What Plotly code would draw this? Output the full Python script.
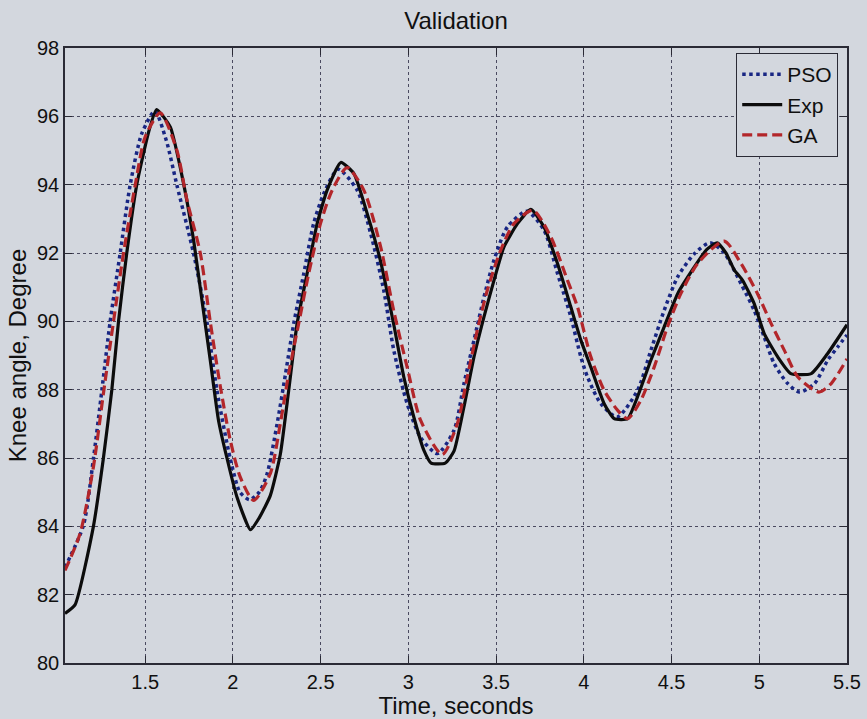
import plotly.graph_objects as go

# ---- data ----
t_exp = [1.043, 1.10, 1.205, 1.262, 1.31, 1.348, 1.395, 1.452, 1.52, 1.565, 1.643, 1.72, 1.776,
         1.824, 1.871, 1.918, 1.966, 2.023, 2.10, 2.15, 2.213, 2.27, 2.318, 2.366, 2.423, 2.48,
         2.537, 2.615, 2.689, 2.765, 2.84, 2.917, 2.974, 3.031, 3.088, 3.13, 3.21, 3.26, 3.317,
         3.374, 3.431, 3.488, 3.545, 3.622, 3.698, 3.773, 3.85, 3.926, 3.983, 4.04, 4.116, 4.173,
         4.25, 4.306, 4.382, 4.458, 4.535, 4.63, 4.70, 4.76, 4.81, 4.858, 4.905, 4.971, 5.028,
         5.105, 5.18, 5.296, 5.39, 5.5]
y_exp = [81.45, 81.7, 84.0, 86.0, 88.0, 90.0, 92.0, 94.0, 95.55, 96.2, 95.69, 94.0, 92.37,
         90.6, 88.86, 87.1, 86.0, 84.86, 83.9, 84.25, 84.9, 86.1, 87.98, 89.94, 91.4, 92.86,
         93.84, 94.65, 94.33, 93.16, 91.79, 89.9, 88.37, 87.2, 86.23, 85.85, 85.85, 86.2, 87.5,
         88.96, 90.13, 91.2, 92.18, 92.86, 93.28, 92.76, 91.69, 90.42, 89.45, 88.66, 87.59, 87.15,
         87.15, 87.79, 88.86, 89.84, 90.81, 91.59, 92.1, 92.3, 92.0, 91.5, 91.2, 90.52, 89.64,
         88.96, 88.47, 88.47, 89.06, 89.9]

t_pso = [1.043, 1.148, 1.205, 1.253, 1.30, 1.357, 1.414, 1.481, 1.555, 1.62, 1.681, 1.776, 1.852,
         1.909, 1.985, 2.04, 2.095, 2.15, 2.195, 2.252, 2.30, 2.347, 2.404, 2.46, 2.518, 2.60,
         2.708, 2.785, 2.86, 2.917, 2.993, 3.07, 3.165, 3.26, 3.317, 3.374, 3.431, 3.488, 3.564,
         3.675, 3.773, 3.85, 3.926, 3.983, 4.021, 4.097, 4.19, 4.306, 4.382, 4.458, 4.535, 4.63,
         4.72, 4.80, 4.896, 4.971, 5.028, 5.085, 5.162, 5.23, 5.315, 5.39, 5.447, 5.5]
y_pso = [82.8, 84.03, 85.98, 87.98, 89.98, 91.98, 93.98, 95.5, 96.15, 95.3, 93.98, 91.98, 89.98,
         87.98, 85.98, 85.0, 84.78, 85.0, 85.54, 87.0, 88.47, 89.94, 91.4, 92.86, 93.74, 94.45,
         93.84, 92.57, 90.9, 89.15, 87.59, 86.6, 86.13, 86.81, 88.18, 89.45, 90.71, 91.79, 92.76,
         93.22, 92.67, 91.4, 90.13, 88.96, 88.37, 87.59, 87.2, 87.98, 89.15, 90.32, 91.3, 91.98,
         92.3, 92.0, 91.1, 90.32, 89.54, 88.76, 88.18, 87.93, 88.18, 88.86, 89.25, 89.6]

t_ga = [1.043, 1.129, 1.205, 1.262, 1.319, 1.376, 1.443, 1.50, 1.586, 1.681, 1.738, 1.814, 1.871,
        1.928, 1.985, 2.042, 2.118, 2.213, 2.27, 2.318, 2.375, 2.432, 2.499, 2.566, 2.651, 2.746,
        2.841, 2.917, 2.993, 3.07, 3.193, 3.279, 3.336, 3.393, 3.45, 3.526, 3.602, 3.71, 3.812,
        3.907, 3.964, 4.04, 4.116, 4.192, 4.25, 4.325, 4.401, 4.477, 4.553, 4.649, 4.80, 4.896,
        4.99, 5.067, 5.143, 5.22, 5.34, 5.41, 5.5]
y_ga = [82.71, 83.79, 85.74, 87.89, 89.98, 91.98, 93.98, 95.4, 96.1, 95.0, 93.55, 92.0, 89.98,
        88.1, 86.52, 85.44, 84.76, 85.54, 87.0, 88.47, 89.94, 91.4, 92.86, 93.84, 94.5, 93.84,
        92.2, 90.3, 88.66, 87.1, 86.1, 87.0, 88.37, 89.74, 90.91, 92.08, 92.86, 93.25, 92.47,
        91.2, 90.42, 88.96, 87.98, 87.4, 87.15, 87.69, 88.66, 89.84, 90.81, 91.69, 92.35, 91.69,
        90.81, 89.94, 89.15, 88.37, 87.93, 88.18, 88.9]

x_ticks = [1.5, 2, 2.5, 3, 3.5, 4, 4.5, 5, 5.5]
x_tick_labels = ["1.5", "2", "2.5", "3", "3.5", "4", "4.5", "5", "5.5"]
y_ticks = [80, 82, 84, 86, 88, 90, 92, 94, 96, 98]

BG = "rgb(211,215,222)"
FONT = "Liberation Sans, Arial, sans-serif"
INK = "#101010"

fig = go.Figure()
fig.add_trace(go.Scatter(x=t_pso, y=y_pso, name="PSO", mode="lines",
                         line=dict(color="#182683", width=3.5, dash="3.5px,3.5px", shape="spline", smoothing=0.7)))
fig.add_trace(go.Scatter(x=t_exp, y=y_exp, name="Exp", mode="lines",
                         line=dict(color="#0c0c0c", width=3.2, shape="spline", smoothing=0.5)))
fig.add_trace(go.Scatter(x=t_ga, y=y_ga, name="GA", mode="lines",
                         line=dict(color="#b3262a", width=3.2, dash="10px,5px", shape="spline", smoothing=0.7)))

axis_common = dict(showline=True, linecolor="#2a2a35", linewidth=1.6, mirror="ticks",
                   ticks="inside", ticklen=7, tickcolor="#2a2a35", tickwidth=1.2,
                   showgrid=True, gridcolor="#4a4a60", gridwidth=1, griddash="dot",
                   zeroline=False, tickfont=dict(family=FONT, size=20, color=INK),
                   automargin=False)

fig.update_xaxes(range=[1.043, 5.5], tickvals=x_ticks, ticktext=x_tick_labels,
                 title=dict(text="Time, seconds", font=dict(family=FONT, size=24, color=INK), standoff=2),
                 **axis_common)
fig.update_yaxes(range=[80, 98], tickvals=y_ticks,
                 title=dict(text="Knee angle, Degree", font=dict(family=FONT, size=24, color=INK), standoff=4),
                 **axis_common)

fig.update_layout(
    width=867, height=719,
    paper_bgcolor=BG, plot_bgcolor=BG,
    margin=dict(l=65, r=20, t=48, b=56),
    title=dict(text="Validation", x=0.5, xref="paper", y=1 - 21 / 719, yref="container",
               yanchor="middle", xanchor="center", font=dict(family=FONT, size=24, color=INK)),
    legend=dict(x=0.9885, y=0.992, xanchor="right", yanchor="top", bgcolor=BG,
                bordercolor="#2a2a35", borderwidth=1.2, font=dict(family=FONT, size=21, color=INK),
                tracegroupgap=0, itemwidth=40),
    showlegend=True,
)

fig.write_html("out.html")
